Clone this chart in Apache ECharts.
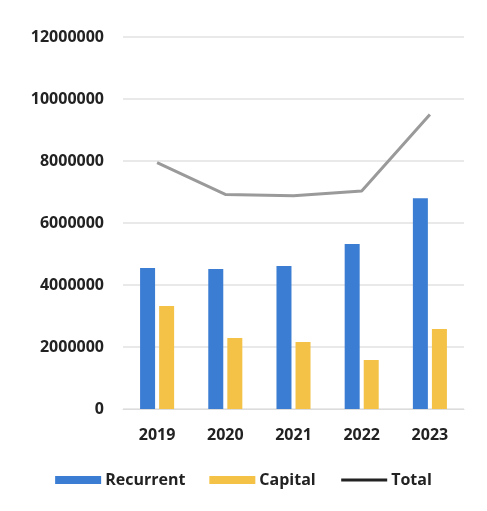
<!DOCTYPE html>
<html>
<head>
<meta charset="utf-8">
<script src="https://cdn.jsdelivr.net/npm/echarts@6/dist/echarts.min.js"></script>
<style>
  html, body { margin: 0; padding: 0; background: #fff; }
  #chart { width: 487px; height: 511px; }
</style>
</head>
<body>
<div id="chart"></div>
<script>
// values
const years = ['2019', '2020', '2021', '2022', '2023'];
const recurrent = [4550000, 4520000, 4610000, 5320000, 6800000];
const capital = [3320000, 2290000, 2160000, 1580000, 2580000];
const total = [7950000, 6920000, 6880000, 7030000, 9500000];

const font = '"Open Sans", "Noto Sans", sans-serif';

const chart = echarts.init(document.getElementById('chart'));
chart.setOption({
  animation: false,
  backgroundColor: '#fff',
  grid: { left: 123, right: 23, top: 37, bottom: 102 },
  legend: {
    bottom: 18,
    left: 'center',
    itemGap: 24,
    itemWidth: 46,
    itemHeight: 8,
    textStyle: { fontFamily: font, fontSize: 16, fontWeight: 'bold', color: '#222', padding: [0, 0, 0, -1] },
    data: [
      { name: 'Recurrent', icon: 'rect' },
      { name: 'Capital', icon: 'rect' },
      { name: 'Total', lineStyle: { color: '#222', width: 3 }, itemStyle: { opacity: 0 } }
    ]
  },
  xAxis: {
    type: 'category',
    data: years,
    axisTick: { show: false },
    axisLine: { lineStyle: { color: '#dcdcdc' } },
    axisLabel: { fontFamily: font, fontSize: 16, fontWeight: 'bold', color: '#222', margin: 18 }
  },
  yAxis: {
    type: 'value',
    min: 0,
    max: 12000000,
    interval: 2000000,
    axisLabel: {
      fontFamily: font, fontSize: 16, fontWeight: 'bold', color: '#222', margin: 19,
      formatter: v => String(v)
    },
    splitLine: { lineStyle: { color: '#e2e2e2', width: 1.5 } }
  },
  series: [
    {
      name: 'Recurrent', type: 'bar', data: recurrent,
      barWidth: 15, barGap: '27%',
      itemStyle: { color: '#3b7dd2' }
    },
    {
      name: 'Capital', type: 'bar', data: capital,
      barWidth: 15,
      itemStyle: { color: '#f4c247' }
    },
    {
      name: 'Total', type: 'line', data: total,
      symbol: 'none',
      lineStyle: { color: '#9a9a9a', width: 3 },
      itemStyle: { color: '#9a9a9a' }
    }
  ]
});
</script>
</body>
</html>
